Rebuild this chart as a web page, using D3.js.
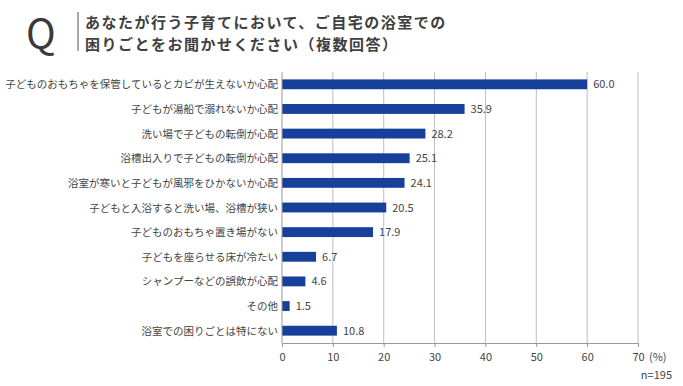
<!DOCTYPE html>
<html>
<head>
<meta charset="utf-8">
<script src="https://cdn.jsdelivr.net/npm/d3@7"></script>
<style>
  body { margin: 0; background: #fff; }
  text { font-family: "Noto Sans CJK JP", "Noto Sans", sans-serif; }
</style>
</head>
<body>
<svg id="chart" width="683" height="386"></svg>
<script>
const categories = [
  "子どものおもちゃを保管しているとカビが生えないか心配",
  "子どもが湯船で溺れないか心配",
  "洗い場で子どもの転倒が心配",
  "浴槽出入りで子どもの転倒が心配",
  "浴室が寒いと子どもが風邪をひかないか心配",
  "子どもと入浴すると洗い場、浴槽が狭い",
  "子どものおもちゃ置き場がない",
  "子どもを座らせる床が冷たい",
  "シャンプーなどの誤飲が心配",
  "その他",
  "浴室での困りごとは特にない"
];
const values = [60.0, 35.9, 28.2, 25.1, 24.1, 20.5, 17.9, 6.7, 4.6, 1.5, 10.8];
const ticks = [0, 10, 20, 30, 40, 50, 60, 70];
const titleLines = [
  "あなたが行う子育てにおいて、ご自宅の浴室での",
  "困りごとをお聞かせください（複数回答）"
];
const sampleNote = "n=195";

const svg = d3.select("#chart");
const plotLeft = 282, plotRight = 638, plotTop = 72, plotBottom = 343;

const x = d3.scaleLinear().domain([0, 70]).range([plotLeft, plotRight]);
const y = d3.scaleBand().domain(categories).range([plotTop, plotBottom]).paddingInner(0.6).paddingOuter(0.3);

// title
svg.append("text")
  .attr("x", 26).attr("y", 48)
  .attr("font-size", 40)
  .attr("fill", "#3a3a3a")
  .text("Q");
svg.append("line")
  .attr("x1", 78).attr("x2", 78)
  .attr("y1", 12).attr("y2", 51)
  .attr("stroke", "#555").attr("stroke-width", 1);
svg.selectAll(".title")
  .data(titleLines)
  .enter().append("text")
  .attr("class", "title")
  .attr("x", 85)
  .attr("y", (d, i) => 28 + i * 22)
  .attr("font-size", 15)
  .attr("letter-spacing", 1.5)
  .attr("font-weight", "bold")
  .attr("fill", "#404040")
  .text(d => d);

// grid
svg.selectAll(".grid")
  .data(ticks.slice(1))
  .enter().append("line")
  .attr("x1", d => x(d)).attr("x2", d => x(d))
  .attr("y1", plotTop).attr("y2", plotBottom)
  .attr("stroke", "#bdbdbd").attr("stroke-width", 1);

// bars
svg.selectAll(".bar")
  .data(values)
  .enter().append("rect")
  .attr("x", x(0))
  .attr("y", (d, i) => y(categories[i]))
  .attr("width", d => x(d) - x(0))
  .attr("height", y.bandwidth())
  .attr("fill", "#16409a");

// value labels
svg.selectAll(".val")
  .data(values)
  .enter().append("text")
  .attr("x", d => x(d) + 6)
  .attr("y", (d, i) => y(categories[i]) + y.bandwidth() / 2 + 4)
  .attr("font-size", 11)
  .attr("fill", "#444")
  .text(d => d.toFixed(1));

// category labels
svg.selectAll(".cat")
  .data(categories)
  .enter().append("text")
  .attr("x", plotLeft - 4)
  .attr("y", d => y(d) + y.bandwidth() / 2 + 4)
  .attr("text-anchor", "end")
  .attr("font-size", 10.5)
  .attr("fill", "#444")
  .text(d => d);

// x axis
const xAxis = svg.append("g")
  .attr("transform", `translate(0,${plotBottom})`)
  .call(d3.axisBottom(x).tickValues(ticks).tickSize(4).tickPadding(6).tickFormat(d => d));
xAxis.select(".domain").attr("stroke", "#999");
xAxis.selectAll(".tick line").attr("stroke", "#999");
xAxis.selectAll(".tick text").attr("font-size", 11).attr("fill", "#444")
  .attr("font-family", "\"Noto Sans CJK JP\", sans-serif");

svg.append("line")
  .attr("x1", plotLeft).attr("x2", plotLeft)
  .attr("y1", plotTop).attr("y2", plotBottom)
  .attr("stroke", "#999");

svg.append("text")
  .attr("x", x(70) + 11).attr("y", plotBottom + 18)
  .attr("font-size", 11).attr("fill", "#444")
  .text("(%)");

svg.append("text")
  .attr("x", 672).attr("y", 379)
  .attr("text-anchor", "end")
  .attr("font-size", 11).attr("fill", "#444")
  .text(sampleNote);
</script>
</body>
</html>
